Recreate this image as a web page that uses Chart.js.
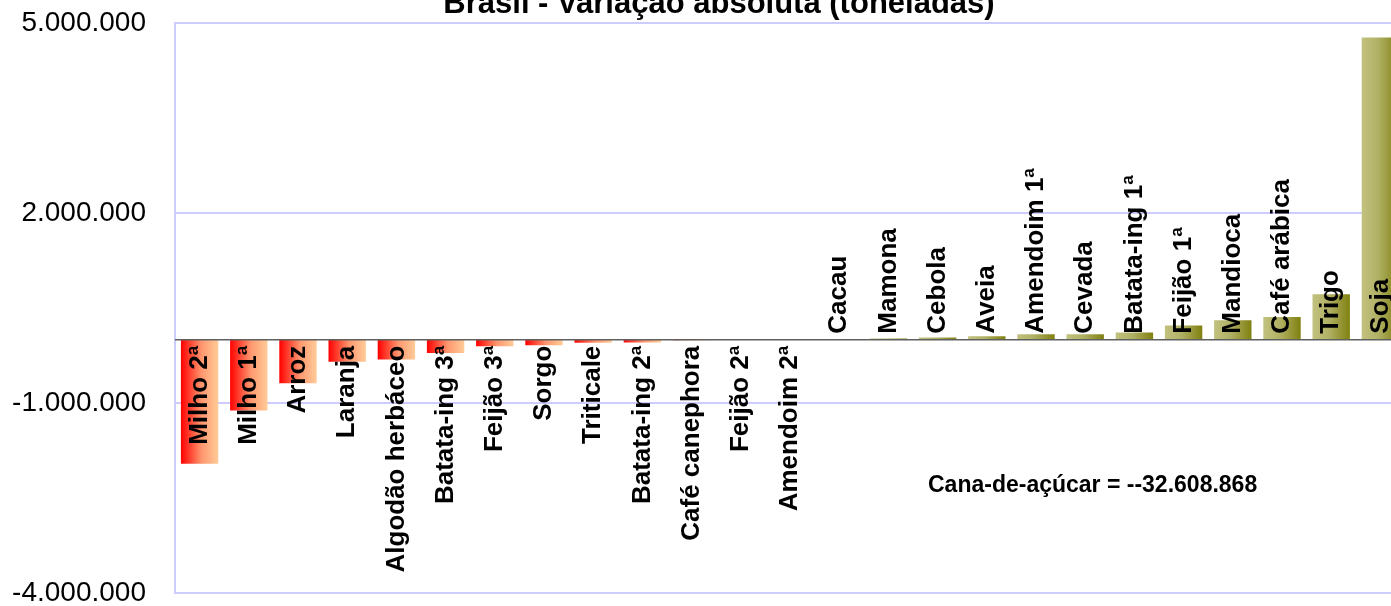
<!DOCTYPE html>
<html>
<head>
<meta charset="utf-8">
<script src="https://cdn.jsdelivr.net/npm/chart.js"></script>
<style>
  body { margin: 0; overflow: hidden; background: #fff; }
  #wrap { width: 1410px; height: 606px; }
</style>
</head>
<body>
<div id="wrap"><canvas id="barChart" width="1410" height="606"></canvas></div>
<script>
// DATA ====================================================
var categories = ["Milho 2ª", "Milho 1ª", "Arroz", "Laranja", "Algodão herbáceo", "Batata-ing 3ª",
  "Feijão 3ª", "Sorgo", "Triticale", "Batata-ing 2ª", "Café canephora", "Feijão 2ª", "Amendoim 2ª",
  "Cacau", "Mamona", "Cebola", "Aveia", "Amendoim 1ª", "Cevada", "Batata-ing 1ª", "Feijão 1ª",
  "Mandioca", "Café arábica", "Trigo", "Soja"];
var variation = [-1960000, -1120000, -690000, -350000, -315000, -210000, -105000, -90000, -47000,
  -45000, -8000, -4000, -2000, 3000, 20000, 36000, 52000, 84000, 84000, 115000, 225000, 306000,
  358000, 717000, 4770000];
var yMin = -4000000, yMax = 5000000, yStep = 3000000;
var chartTitle = "Brasil - Variação absoluta (toneladas)";
var canaNote = "Cana-de-açúcar = --32.608.868";
var canaNoteY = -2300000;

var BAR_PCT = 0.76;
var FONT = "Arial, 'Liberation Sans', sans-serif";

function fmt(v) {
  return String(v).replace(/\B(?=(\d{3})+(?!\d))/g, ".");
}

// gradient per bar, left to right
function barFill(ctx) {
  var chart = ctx.chart, area = chart.chartArea;
  var neg = ctx.raw < 0;
  if (!area || !chart.scales.x) return neg ? "#ff6040" : "#a0a040";
  var cx = chart.scales.x.getPixelForValue(ctx.dataIndex);
  var hw = (area.width / categories.length) * BAR_PCT / 2;
  var g = chart.ctx.createLinearGradient(cx - hw, 0, cx + hw, 0);
  if (neg) {
    g.addColorStop(0, "rgb(255,0,0)");
    g.addColorStop(0.55, "rgb(255,150,110)");
    g.addColorStop(1, "rgb(255,204,153)");
  } else {
    g.addColorStop(0, "rgb(194,194,128)");
    g.addColorStop(0.45, "rgb(176,176,100)");
    g.addColorStop(1, "rgb(128,128,16)");
  }
  return g;
}

// labels, zero line, title, note
var extras = {
  id: "extras",
  afterDatasetsDraw: function (chart) {
    var c = chart.ctx, area = chart.chartArea;
    var xs = chart.scales.x, ys = chart.scales.y;
    var y0 = ys.getPixelForValue(0);

    c.save();
    c.strokeStyle = "#606060";
    c.lineWidth = 1.5;
    c.beginPath();
    c.moveTo(area.left, y0);
    c.lineTo(area.right, y0);
    c.stroke();

    c.fillStyle = "#000";
    c.font = "bold 26px " + FONT;
    c.textBaseline = "middle";
    for (var i = 0; i < categories.length; i++) {
      var cx = xs.getPixelForValue(i);
      c.save();
      if (variation[i] >= 0) {
        c.translate(cx, y0 - 6);
        c.textAlign = "left";
      } else {
        c.translate(cx, y0 + 6);
        c.textAlign = "right";
      }
      c.rotate(-Math.PI / 2);
      c.fillText(categories[i], 0, 0);
      c.restore();
    }

    c.font = "bold 23px " + FONT;
    c.textAlign = "center";
    c.fillText(canaNote, area.left + area.width * 0.746, ys.getPixelForValue(canaNoteY));

    c.font = "bold 31px " + FONT;
    c.textBaseline = "alphabetic";
    c.fillText(chartTitle, 719, 13);
    c.restore();
  }
};

var bar = new Chart(document.getElementById("barChart"), {
  type: "bar",
  data: {
    labels: categories,
    datasets: [{
      data: variation,
      backgroundColor: barFill,
      borderWidth: 0,
      barPercentage: BAR_PCT,
      categoryPercentage: 1
    }]
  },
  options: {
    responsive: false,
    animation: false,
    devicePixelRatio: 1,
    layout: { padding: { top: 23, bottom: 13, left: 0, right: 5 } },
    plugins: {
      legend: { display: false },
      title: { display: false },
      tooltip: { enabled: false }
    },
    scales: {
      x: { display: false },
      y: {
        min: yMin,
        max: yMax,
        afterFit: function (s) {
          s.width = 175;
          s.paddingTop = 0;
          s.paddingBottom = 0;
        },
        ticks: {
          stepSize: yStep,
          padding: 29,
          color: "#000",
          font: { family: FONT, size: 28, lineHeight: 1 },
          callback: function (v) { return fmt(v); }
        },
        grid: { color: "#ccccff", lineWidth: 2, drawTicks: false },
        border: { color: "#ccccff", width: 2 }
      }
    }
  },
  plugins: [extras]
});
</script>
</body>
</html>
